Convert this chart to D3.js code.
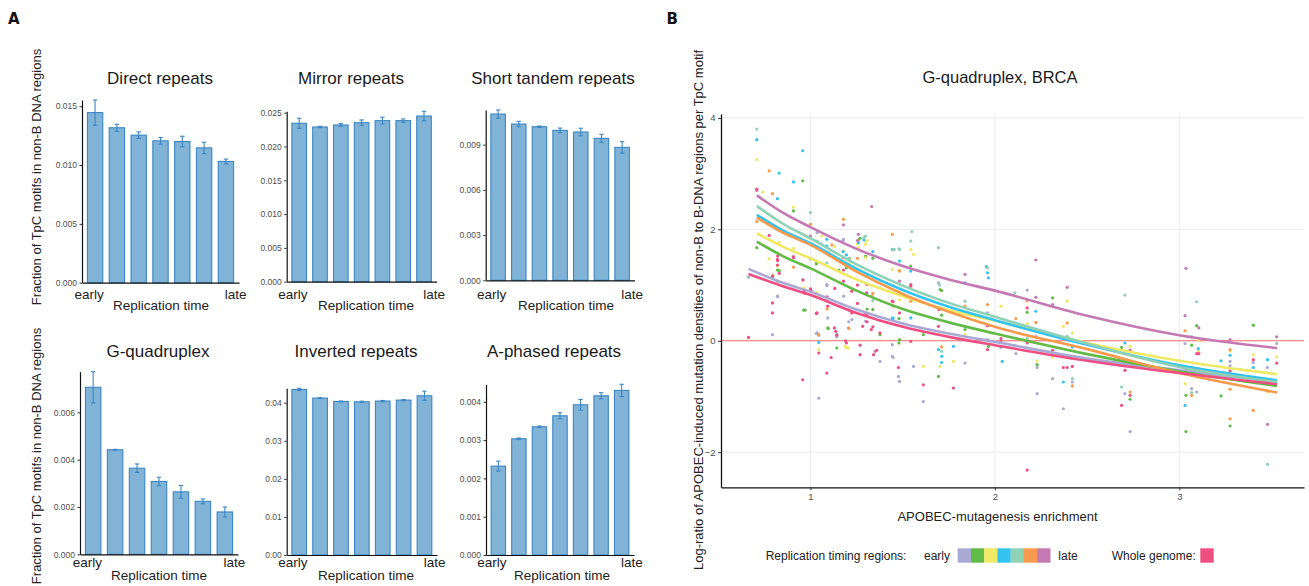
<!DOCTYPE html>
<html><head><meta charset="utf-8">
<script src="https://cdn.jsdelivr.net/npm/d3@7"></script>
<style>body{margin:0;background:#fff} svg{display:block} text{font-family:"Liberation Sans",Arial,Helvetica,sans-serif}</style>
</head><body><svg id="c" width="1309" height="586"></svg>
<script>
// ---------- Panel A data ----------
const timeCats = ["t1","t2","t3","t4","t5","t6","t7"];
const timeLabels = ["early","","","","","","late"];
const panelTitles = ["Direct repeats","Mirror repeats","Short tandem repeats","G-quadruplex","Inverted repeats","A-phased repeats"];
const directVals = [0.01446,0.01317,0.01254,0.01206,0.01200,0.01146,0.01031];
const directErr  = [0.00107,0.00030,0.00028,0.00028,0.00045,0.00048,0.00020];
const mirrorVals = [0.02343,0.02288,0.02318,0.02352,0.02382,0.02382,0.02450];
const mirrorErr  = [0.00074,0.00010,0.00020,0.00040,0.00050,0.00025,0.00070];
const strVals    = [0.01103,0.01037,0.01019,0.00995,0.00984,0.00942,0.00882];
const strErr     = [0.00027,0.00018,0.00005,0.00015,0.00025,0.00027,0.00038];
const g4Vals     = [0.00706,0.00442,0.00364,0.00308,0.00264,0.00224,0.00179];
const g4Err      = [0.00066,0.00002,0.00018,0.00018,0.00027,0.00010,0.00021];
const invVals    = [0.04350,0.04123,0.04035,0.04026,0.04045,0.04070,0.04184];
const invErr     = [0.00030,0.00010,0.00010,0.00015,0.00015,0.00015,0.00120];
const aphVals    = [0.00232,0.003035,0.003348,0.003635,0.003922,0.004157,0.004297];
const aphErr     = [0.00013,0.00002,0.00002,0.00008,0.00014,0.00008,0.00016];
const panelTicks = [[0,0.005,0.010,0.015],[0,0.005,0.010,0.015,0.020,0.025],[0,0.003,0.006,0.009],
                    [0,0.002,0.004,0.006],[0,0.01,0.02,0.03,0.04],[0,0.001,0.002,0.003,0.004]];
const panelFormats = [".3f",".3f",".3f",".3f",".2f",".3f"];
const yLabelA = "Fraction of TpC motifs in non-B DNA regions";
const xLabelA = "Replication time";

// ---------- Panel B data ----------
const groupNames = ["RT1 (early)","RT2","RT3","RT4","RT5","RT6","RT7 (late)","Whole genome"];
const pointsRT1 = [[0.664,1.14],[0.794,0.11],[0.821,0.80],[1.036,1.94],[1.036,0.14],[1.045,-1.03],[1.089,1.01],[1.094,0.41],[1.143,0.07],[1.179,1.82],[1.18,0.80],[1.225,0.38],[1.299,0.35],[1.377,-0.37],[1.444,-0.07],[1.444,-0.28],[1.477,-0.64],[1.483,-0.73],[1.559,-0.46],[1.612,-1.09],[1.694,1.04],[1.838,-0.40],[1.96,0.50],[1.96,0.02],[2.033,-0.12],[2.114,-0.23],[2.175,0.91],[2.229,-0.48],[2.229,-0.95],[2.313,-0.68],[2.371,-1.22],[2.42,-0.74],[2.705,-0.95],[2.733,-1.63],[3.031,-0.05],[3.067,-0.86],[3.094,-0.92],[3.275,-0.37],[3.275,-0.45],[3.401,-0.39],[3.478,-0.48],[3.528,-0.05],
  [0.822,0.79],[1.045,0.10],[1.032,0.13],[1.09,0.99],[1.177,1.80],[1.208,0.55],[1.208,0.34],[1.448,-0.30]];
const pointsRT2 = [[0.709,1.67],[0.821,1.27],[0.821,1.07],[0.908,2.33],[0.958,2.87],[0.963,0.55],[1.036,1.41],[1.094,0.23],[1.143,-0.13],[1.211,1.48],[1.26,1.81],[1.299,1.52],[1.338,0.56],[1.377,0.11],[1.483,0.02],[1.544,1.34],[1.612,0.11],[1.703,0.92],[1.694,-0.64],[1.838,0.20],[1.965,-0.10],[2.175,0.51],[2.229,-0.43],[2.313,0.77],[2.687,-0.12],[2.733,-1.05],[3.036,-0.98],[3.036,-1.63],[3.067,-0.08],[3.094,0.27],[3.226,-0.99],[3.275,-1.53],[3.401,0.28],
  [0.831,1.26],[0.971,0.55],[1.032,1.38],[1.097,0.22],[1.154,1.27],[1.195,1.31],[1.269,1.84],[1.307,0.57],[1.338,1.48],[1.48,-0.04],[1.48,0.40],[1.711,0.90],[1.711,0.46]];
const pointsRT3 = [[0.709,3.25],[0.742,2.67],[0.776,1.47],[0.83,1.76],[0.908,2.40],[0.908,1.66],[0.965,0.95],[1.036,0.86],[1.045,-0.16],[1.062,1.88],[1.179,1.61],[1.188,-0.10],[1.206,-0.13],[1.211,1.38],[1.26,1.67],[1.299,1.79],[1.299,1.73],[1.299,1.49],[1.444,1.28],[1.483,0.74],[1.544,1.64],[1.559,1.55],[1.612,-0.46],[1.703,-0.46],[1.775,-0.37],[1.838,0.11],[2.033,0.62],[2.175,0.31],[2.229,-0.36],[2.313,-0.29],[2.371,0.26],[2.392,0.71],[2.42,0.14],[2.733,-0.10],[3.031,-0.77],[3.103,0.01],[3.103,-0.18],[3.275,-0.18],[3.401,-0.25],[3.528,-0.29],[3.478,-0.92],
  [0.822,1.34],[0.971,0.91],[1.0,1.84],[1.032,0.86],[1.132,1.69],[1.195,-0.13],[1.255,1.74],[1.307,1.80],[1.48,1.27],[1.48,0.88]];
const pointsRT4 = [[0.709,3.61],[0.821,2.55],[0.83,3.01],[0.794,1.13],[0.908,2.85],[0.958,3.41],[1.0,1.47],[1.089,1.82],[1.089,1.70],[1.143,0.11],[1.26,1.76],[1.305,1.16],[1.444,1.64],[1.483,1.43],[1.444,0.41],[1.544,1.25],[1.544,0.41],[1.694,-0.16],[1.712,-0.28],[1.775,-0.10],[1.838,1.04],[1.96,1.22],[1.965,1.13],[2.04,-0.37],[2.222,0.53],[2.371,-0.74],[2.42,-0.11],[2.705,-0.04],[3.031,-1.16],[3.067,0.07],[3.103,-0.14],[3.226,-0.36],[3.275,-0.26],[3.401,-0.48],[3.478,-0.34],
  [0.796,1.12],[1.045,-0.03],[1.177,1.60],[1.195,1.54],[1.29,1.81],[1.338,1.60],[1.448,0.40],[1.711,-0.39],[1.954,1.33]];
const pointsRT5 = [[0.709,3.80],[0.958,1.10],[1.0,2.30],[1.036,1.79],[1.089,1.40],[1.299,1.88],[1.455,1.64],[1.483,1.64],[1.544,1.79],[1.55,1.96],[1.694,1.67],[1.838,0.71],[1.96,1.31],[2.108,0.86],[2.175,0.04],[2.392,0.08],[2.42,-0.68],[2.687,-0.83],[2.705,0.82],[3.067,-0.93],[3.094,0.70],[3.275,-0.65],[3.478,-2.22],
  [1.208,1.48],[1.29,1.85],[1.338,0.72],[1.448,1.63],[1.48,1.65],[1.70,1.0],[1.711,-0.19]];
const pointsRT6 = [[0.709,2.14],[0.776,3.05],[0.794,2.64],[0.908,1.32],[1.0,2.09],[1.045,0.11],[1.116,1.72],[1.179,2.18],[1.179,1.49],[1.206,0.23],[1.332,0.80],[1.444,1.91],[1.483,1.25],[1.544,0.71],[1.838,0.62],[1.96,0.65],[2.114,0.40],[2.175,0.72],[2.222,0.33],[2.392,0.32],[2.42,-0.81],[2.733,-0.92],[3.031,0.18],[3.067,-0.98],[3.103,-0.50],[3.275,-0.16],[3.275,-0.87],[3.275,-1.40],[3.401,-1.25],
  [0.796,1.17],[1.09,0.57],[1.208,0.22],[1.255,1.48],[1.338,0.85],[1.448,0.62],[1.711,-0.11]];
const pointsRT7 = [[0.709,2.70],[1.0,1.88],[1.179,2.08],[1.26,1.91],[1.332,2.41],[1.351,-0.19],[1.483,1.07],[1.838,1.19],[2.222,1.45],[2.222,0.78],[2.313,0.65],[2.392,0.96],[3.036,1.30],[3.031,0.45],[3.106,0.23],[3.275,0.02],[3.478,-1.50],[3.528,0.07],
  [1.255,1.80]];
const pointsWG  = [[0.664,0.06],[0.709,2.72],[0.776,1.89],[0.794,1.16],[0.794,0.68],[0.794,0.50],[0.821,1.46],[0.821,1.36],[0.908,1.49],[0.965,0.89],[0.958,-0.70],[1.0,0.93],[1.005,0.89],[1.036,0.50],[1.045,-0.22],[1.094,0.62],[1.089,-0.58],[1.112,-0.30],[1.13,0.23],[1.137,0.17],[1.179,1.27],[1.179,1.07],[1.19,0.0],[1.224,0.89],[1.224,0.50],[1.283,0.26],[1.305,1.01],[1.305,0.86],[1.299,0.50],[1.33,0.20],[1.342,-0.25],[1.377,0.14],[1.444,0.71],[1.477,-0.48],[1.483,0.50],[1.544,1.01],[1.544,0.98],[1.544,-0.01],[1.612,-0.79],[1.697,0.56],[1.694,0.26],[1.775,-0.85],[1.96,0.27],[1.96,-0.16],[2.033,0.04],[2.033,-0.02],[2.175,0.59],[2.175,-0.04],[2.175,-2.32],[2.222,0.07],[2.313,-0.17],[2.371,-0.48],[2.392,-0.48],[2.42,-0.46],[2.705,-0.53],[2.687,-1.16],[2.733,-0.17],[2.733,-0.98],[3.036,-0.50],[3.094,-0.23],[3.106,-0.23],[3.275,-0.54],[3.401,-0.34],[3.528,-0.40],
  [0.822,1.52],[0.822,1.44],[0.831,1.21],[0.907,1.51],[0.96,1.09],[0.971,0.85],[1.032,0.49],[1.09,0.79],[1.132,0.94],[1.143,0.10],[1.195,-0.04],[1.255,1.0],[1.255,0.67],[1.307,0.48],[1.307,0.34],[1.338,0.25],[1.269,-0.08],[1.269,-0.25],[1.359,-0.17],[1.448,0.70]];
const curveX      = [0.709,0.85,1.0,1.25,1.5,1.75,2.0,2.5,3.0,3.53];
const curveXWide  = [0.664,0.85,1.0,1.25,1.5,1.75,2.0,2.5,3.0,3.53];
const curveRT1 = [1.29,1.04,0.88,0.56,0.31,0.13,-0.02,-0.32,-0.53,-0.74];
const curveRT2 = [1.78,1.52,1.30,0.90,0.57,0.33,0.13,-0.24,-0.55,-0.81];
const curveRT3 = [1.93,1.69,1.48,1.10,0.80,0.55,0.36,-0.04,-0.36,-0.60];
const curveRT4 = [2.26,1.98,1.75,1.29,0.91,0.61,0.37,-0.07,-0.44,-0.71];
const curveRT5 = [2.42,2.10,1.84,1.37,0.99,0.68,0.43,-0.05,-0.47,-0.74];
const curveRT6 = [2.21,1.94,1.72,1.24,0.84,0.52,0.25,-0.15,-0.58,-0.93];
const curveRT7 = [2.61,2.30,2.04,1.65,1.34,1.10,0.90,0.45,0.10,-0.13];
const curveWG  = [1.20,0.98,0.82,0.50,0.25,0.07,-0.08,-0.36,-0.58,-0.78];
const xTicksB = [1,2,3];
const yTicksB = [-2,0,2,4];
const titleB = "G-quadruplex, BRCA";
const xLabelB = "APOBEC-mutagenesis enrichment";
const yLabelB = "Log-ratio of APOBEC-induced mutation densities of non-B to B-DNA regions per TpC motif";

// ---------- styles / layout ----------
const groupColors = ["#a9aad4","#62bb47","#efe966","#33c3f1","#8fd1b5","#f89a4d","#c579b3","#ee4e81"];
const barFill = "#80b3d5", barStroke = "#3c86c4";
const panelLayout = [
  {x0:82,   x1:239,   yb:282.7, yt:100,   tx:160, ty:84,  lx:161, ly:299, rx:310},
  {x0:286.7,x1:436.5, yb:281.7, yt:111.3, tx:351, ty:84,  lx:366, ly:299, rx:310},
  {x0:485.7,x1:634.5, yb:280.3, yt:110,   tx:553, ty:84,  lx:566, ly:299, rx:310},
  {x0:80,   x1:238,   yb:554.3, yt:371.7, tx:158, ty:357, lx:159, ly:567, rx:580},
  {x0:286.7,x1:437,   yb:555,   yt:388.3, tx:356, ty:357, lx:366, ly:567, rx:580},
  {x0:486,  x1:634,   yb:555,   yt:384.3, tx:554, ty:357, lx:562, ly:567, rx:580}
];
const svg = d3.select("#c");

svg.append("text").attr("x",8).attr("y",24).text("A")
  .style("font-family","'DejaVu Sans',sans-serif").style("font-weight","bold").style("font-size","15px").attr("fill","#111");
svg.append("text").attr("x",666.5).attr("y",24).text("B")
  .style("font-family","'DejaVu Sans',sans-serif").style("font-weight","bold").style("font-size","15px").attr("fill","#111");

const panelData = [[directVals,directErr],[mirrorVals,mirrorErr],[strVals,strErr],[g4Vals,g4Err],[invVals,invErr],[aphVals,aphErr]];
panelData.forEach(([vals,errs],i)=>{
  const L = panelLayout[i];
  const x = d3.scaleBand().domain(timeCats).range([L.x0,L.x1]).paddingInner(0.25).paddingOuter(0.225);
  const yMax = d3.max(vals.map((v,j)=>v+errs[j]));
  const y = d3.scaleLinear().domain([0,yMax]).range([L.yb,L.yt]);
  const g = svg.append("g");
  const rows = vals.map((v,j)=>({c:timeCats[j],v,e:errs[j],lab:timeLabels[j]}));
  g.selectAll("rect.bar").data(rows).join("rect").attr("class","bar")
    .attr("x",d=>x(d.c)+0.5).attr("width",x.bandwidth()-1)
    .attr("y",d=>y(d.v)).attr("height",d=>y(0)-y(d.v))
    .attr("fill",barFill).attr("stroke",barStroke).attr("stroke-width",1.1);
  const eb = g.selectAll("g.err").data(rows).join("g").attr("class","err")
    .attr("stroke",barStroke).attr("stroke-width",1.1).attr("fill","none");
  eb.append("line").attr("x1",d=>x(d.c)+x.bandwidth()/2).attr("x2",d=>x(d.c)+x.bandwidth()/2)
    .attr("y1",d=>y(d.v-d.e)).attr("y2",d=>y(d.v+d.e));
  eb.append("line").attr("x1",d=>x(d.c)+x.bandwidth()/2-2.2).attr("x2",d=>x(d.c)+x.bandwidth()/2+2.2)
    .attr("y1",d=>y(d.v+d.e)).attr("y2",d=>y(d.v+d.e));
  eb.append("line").attr("x1",d=>x(d.c)+x.bandwidth()/2-2.2).attr("x2",d=>x(d.c)+x.bandwidth()/2+2.2)
    .attr("y1",d=>y(d.v-d.e)).attr("y2",d=>y(d.v-d.e));
  const ya = g.append("g").attr("transform",`translate(${L.x0},0)`)
    .call(d3.axisLeft(y).tickValues(panelTicks[i]).tickFormat(d3.format(panelFormats[i])).tickSize(2.5).tickSizeOuter(0).tickPadding(2.5));
  ya.select(".domain").attr("stroke","#111").attr("stroke-width",1.2);
  ya.selectAll(".tick line").attr("stroke","#333");
  ya.selectAll(".tick text").attr("fill","#4d4d4d").style("font-size","8.5px");
  const xa = g.append("g").attr("transform",`translate(0,${L.yb})`)
    .call(d3.axisBottom(x).tickSize(0).tickSizeOuter(0).tickFormat(""));
  xa.select(".domain").attr("stroke","#111").attr("stroke-width",1.2);
  g.selectAll("text.tl").data(rows.filter(d=>d.lab)).join("text").attr("class","tl")
    .attr("x",d=>d.lab==="early"? x(d.c)+x.bandwidth()+0.5 : x(d.c)+7)
    .attr("text-anchor",d=>d.lab==="early"?"end":"start")
    .attr("y",L.ly).text(d=>d.lab).attr("fill","#222").style("font-size","13.5px");
  g.append("text").attr("x",L.lx).attr("y",L.rx).attr("text-anchor","middle").text(xLabelA)
    .attr("fill","#222").style("font-size","13.5px");
  g.append("text").attr("x",L.tx).attr("y",L.ty).attr("text-anchor","middle").text(panelTitles[i])
    .attr("fill","#1a1a1a").style("font-size","17px");
});
[177,456].forEach(cy=>{
  svg.append("text").attr("transform",`translate(41,${cy}) rotate(-90)`).attr("text-anchor","middle")
    .text(yLabelA).attr("fill","#222").style("font-size","13px");
});

// ---------- Panel B ----------
const xB = d3.scaleLinear().domain([0.515,3.676]).range([721,1304]);
const yB = d3.scaleLinear().domain([-2.63,4.07]).range([487.3,114]);
const gB = svg.append("g");
gB.selectAll("line.gx").data(xTicksB).join("line").attr("class","gx")
  .attr("x1",d=>xB(d)).attr("x2",d=>xB(d)).attr("y1",yB.range()[0]).attr("y2",yB.range()[1])
  .attr("stroke","#ebebeb").attr("stroke-width",1);
gB.selectAll("line.gy").data(yTicksB).join("line").attr("class","gy")
  .attr("y1",d=>yB(d)).attr("y2",d=>yB(d)).attr("x1",xB.range()[0]).attr("x2",xB.range()[1])
  .attr("stroke","#ebebeb").attr("stroke-width",1);
gB.append("line").attr("x1",xB.range()[0]).attr("x2",xB.range()[1]).attr("y1",yB(0)).attr("y2",yB(0))
  .attr("stroke","#f4716c").attr("stroke-width",1.1);

const pointSets = [pointsRT1,pointsRT2,pointsRT3,pointsRT4,pointsRT5,pointsRT6,pointsRT7,pointsWG];
pointSets.forEach((pts,k)=>{
  gB.append("g").selectAll("circle").data(pts).join("circle")
    .attr("cx",d=>xB(d[0])).attr("cy",d=>yB(d[1])).attr("r",1.6).attr("fill",groupColors[k]);
});
const curveSets = [[curveXWide,curveRT1],[curveX,curveRT2],[curveX,curveRT3],[curveX,curveRT4],[curveX,curveRT5],[curveX,curveRT6],[curveX,curveRT7],[curveXWide,curveWG]];
const lineGen = d3.line().x(d=>xB(d[0])).y(d=>yB(d[1])).curve(d3.curveMonotoneX);
curveSets.forEach(([xs,ys],k)=>{
  gB.append("path").attr("d",lineGen(xs.map((xv,j)=>[xv,ys[j]])))
    .attr("fill","none").attr("stroke",groupColors[k]).attr("stroke-width",2.6).attr("stroke-linecap","butt");
});
const axL = gB.append("g").attr("transform","translate(721,0)")
  .call(d3.axisLeft(yB).tickValues(yTicksB).tickFormat(d3.format("d")).tickSize(3).tickSizeOuter(0).tickPadding(2.5));
const axB = gB.append("g").attr("transform","translate(0,487.3)")
  .call(d3.axisBottom(xB).tickValues(xTicksB).tickFormat(d3.format("d")).tickSize(3).tickSizeOuter(0).tickPadding(3));
[axL,axB].forEach(a=>{
  a.select(".domain").attr("stroke","#111").attr("stroke-width",1.3);
  a.selectAll(".tick line").attr("stroke","#333");
  a.selectAll(".tick text").attr("fill","#4d4d4d").style("font-size","9.5px");
});
svg.append("text").attr("x",1000).attr("y",83).attr("text-anchor","middle").text(titleB)
  .attr("fill","#1a1a1a").style("font-size","16.5px");
svg.append("text").attr("x",997.5).attr("y",521).attr("text-anchor","middle").text(xLabelB)
  .attr("fill","#222").style("font-size","13px");
svg.append("text").attr("transform","translate(702.5,310) rotate(-90)").attr("text-anchor","middle")
  .text(yLabelB).attr("fill","#222").style("font-size","13px");

// legend
const lg = svg.append("g").style("font-size","12px");
lg.append("text").attr("x",765.7).attr("y",559.5).text("Replication timing regions:").attr("fill","#222");
lg.append("text").attr("x",924).attr("y",559.5).text("early").attr("fill","#222");
lg.selectAll("rect").data(groupNames.slice(0,7)).join("rect")
  .attr("x",(d,k)=>957.7+k*13.23).attr("y",548.3).attr("width",13.4).attr("height",14.4)
  .attr("fill",(d,k)=>groupColors[k]);
lg.append("text").attr("x",1058.3).attr("y",559.5).text("late").attr("fill","#222");
lg.append("text").attr("x",1111.7).attr("y",559.5).text("Whole genome:").attr("fill","#222");
lg.append("rect").attr("x",1200.3).attr("y",548.3).attr("width",13.4).attr("height",14.4).attr("fill",groupColors[7]);
</script></body></html>
